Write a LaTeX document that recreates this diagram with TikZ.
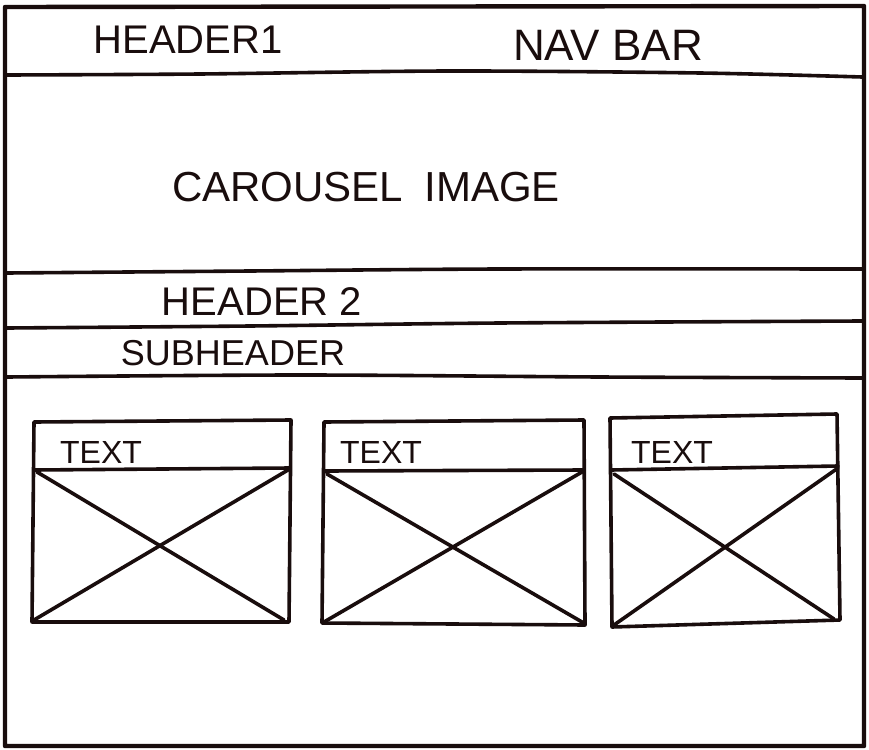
\documentclass[tikz,border=0pt]{standalone}
\usepackage{fontspec}
\setmainfont{Liberation Sans}
\definecolor{inkc}{rgb}{0.10,0.05,0.05}
\begin{document}
\begin{tikzpicture}[x=1pt,y=-1pt,
  ink/.style={draw=inkc, line width=3.6pt, line cap=round, line join=round},
  lbl/.style={text=inkc, inner sep=0pt, anchor=center}]
\useasboundingbox (0,0) rectangle (869,749);
\fill[white] (0,0) rectangle (869,749);
% outer frame
\draw[ink, line width=4.4pt] (5,7) -- (864,6) -- (864,746) -- (5,746) -- cycle;
% horizontal dividers
\draw[ink] plot[smooth] coordinates {(7,75) (200,74) (450,71) (700,73) (862,77)};
\draw[ink] plot[smooth] coordinates {(7,273) (250,271) (500,269) (862,269)};
\draw[ink] plot[smooth] coordinates {(7,328) (250,326) (500,323) (862,321)};
\draw[ink] plot[smooth] coordinates {(7,377) (300,375) (600,377) (862,378)};
% texts
\node[lbl, font=\fontsize{40}{40}\selectfont] (h1) at (188,40) {HEADER1};
\node[lbl, font=\fontsize{44}{44}\selectfont] (nav) at (608,45) {NAV BAR};
\node[lbl, font=\fontsize{42}{42}\selectfont] (car) at (366,187) {CAROUSEL\hspace{0.5em}IMAGE};
\node[lbl, font=\fontsize{40}{40}\selectfont] (h2) at (262,302) {HEADER 2};
\node[lbl, font=\fontsize{36}{36}\selectfont] (sub) at (233,353) {SUBHEADER};
% card 1
\draw[ink] (34,422) -- (291,420) -- (289,622) -- (32,622) -- cycle;
\draw[ink] (34,470) -- (290,468);
\draw[ink] (37,472) -- (284,620);
\draw[ink] (288,470) -- (34,620);
\node[lbl, font=\fontsize{32}{32}\selectfont] (t1) at (101,452) {TEXT};
% card 2
\draw[ink] (324,422) -- (584,420) -- (585,625) -- (322,623) -- cycle;
\draw[ink] (324,471) -- (584,470);
\draw[ink] (327,474) -- (582,622);
\draw[ink] (582,472) -- (324,622);
\node[lbl, font=\fontsize{32}{32}\selectfont] (t2) at (381,452) {TEXT};
% card 3
\draw[ink] (610,418) -- (837,414) -- (840,620) -- (612,627) -- cycle;
\draw[ink] (611,470) -- (838,466);
\draw[ink] (614,474) -- (834,619);
\draw[ink] (838,468) -- (614,625);
\node[lbl, font=\fontsize{32}{32}\selectfont] (t3) at (672,452) {TEXT};
\end{tikzpicture}
\end{document}
